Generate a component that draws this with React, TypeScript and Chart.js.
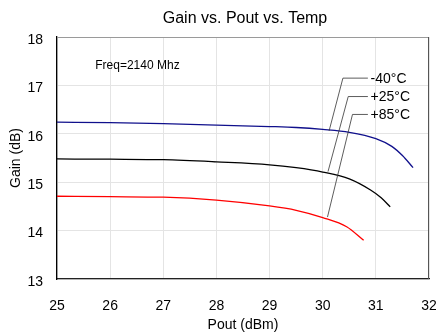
import React, { useEffect, useRef } from "react";
import { Chart, registerables } from "chart.js";

Chart.register(...registerables);

const FONT = "'Liberation Sans', Arial, sans-serif";

const TITLE = "Gain vs. Pout vs. Temp";
const X_TITLE = "Pout (dBm)";
const Y_TITLE = "Gain (dB)";
const FREQ_TEXT = "Freq=2140 Mhz";

// Series: x = Pout (dBm), y = Gain (dB)
const seriesNames = ["-40°C", "+25°C", "+85°C"];
const seriesColors = ["#10108c", "#000000", "#ff0000"];

const poutM40 = [25, 26, 27, 28, 29, 29.5, 30, 30.5, 31.0, 31.3, 31.5, 31.7];
const gainM40 = [16.24, 16.23, 16.21, 16.18, 16.15, 16.13, 16.09, 16.03, 15.9, 15.74, 15.55, 15.3];

const poutP25 = [25, 26, 27, 28, 29, 29.5, 30, 30.5, 30.9, 31.1, 31.27];
const gainP25 = [15.48, 15.475, 15.465, 15.42, 15.36, 15.3, 15.21, 15.07, 14.84, 14.68, 14.49];

const poutP85 = [25, 26, 27, 28, 29, 29.5, 30, 30.45, 30.77];
const gainP85 = [14.71, 14.7, 14.69, 14.63, 14.51, 14.42, 14.27, 14.08, 13.8];

// Callout leader lines (data units)
const calloutAnchorX = [30.12, 30.1, 30.09];
const calloutAnchorY = [16.06, 15.22, 14.28];
const calloutElbowX = [30.38, 30.48, 30.56];
const calloutElbowY = [17.15, 16.77, 16.4];
const calloutLineEndX = 30.85;
const calloutTextX = 30.9;

const freqX = 25.72;
const freqY = 17.41;

const X_MIN = 25, X_MAX = 32, Y_MIN = 13, Y_MAX = 18;

const toPoints = (xs: number[], ys: number[]) => xs.map((x, i) => ({ x, y: ys[i] }));

const decorPlugin = {
  id: "decor",
  afterDatasetsDraw(chart: any) {
    const { ctx, chartArea, scales } = chart;
    const xs = scales.x, ys = scales.y;
    ctx.save();
    // top and right frame
    ctx.lineWidth = 1;
    ctx.strokeStyle = "#9a9a9a";
    ctx.beginPath();
    ctx.moveTo(chartArea.left, chartArea.top + 0.5);
    ctx.lineTo(chartArea.right, chartArea.top + 0.5);
    ctx.stroke();
    ctx.strokeStyle = "#555555";
    ctx.beginPath();
    ctx.moveTo(chartArea.right - 0.5, chartArea.top);
    ctx.lineTo(chartArea.right - 0.5, chartArea.bottom);
    ctx.stroke();

    // title centred over the plot area
    ctx.fillStyle = "#000";
    ctx.font = `16px ${FONT}`;
    ctx.textAlign = "center";
    ctx.textBaseline = "middle";
    ctx.fillText(TITLE, (chartArea.left + chartArea.right) / 2 + 2, 19);

    // callouts
    ctx.strokeStyle = "#333333";
    ctx.lineWidth = 0.8;
    ctx.font = `14px ${FONT}`;
    ctx.textAlign = "left";
    for (let i = 0; i < seriesNames.length; i++) {
      const ax = xs.getPixelForValue(calloutAnchorX[i]);
      const ay = ys.getPixelForValue(calloutAnchorY[i]);
      const ex = xs.getPixelForValue(calloutElbowX[i]);
      const ey = ys.getPixelForValue(calloutElbowY[i]);
      const lx = xs.getPixelForValue(calloutLineEndX);
      ctx.beginPath();
      ctx.moveTo(ax, ay);
      ctx.lineTo(ex, ey);
      ctx.lineTo(lx, ey);
      ctx.stroke();
      ctx.fillText(seriesNames[i], xs.getPixelForValue(calloutTextX), ey + 1);
    }

    ctx.font = `12px ${FONT}`;
    ctx.fillText(FREQ_TEXT, xs.getPixelForValue(freqX), ys.getPixelForValue(freqY));
    ctx.restore();
  },
};

export default function App() {
  const ref = useRef<HTMLCanvasElement | null>(null);

  useEffect(() => {
    document.body.style.margin = "0";
    const canvas = ref.current;
    if (!canvas) return;
    const series = [toPoints(poutM40, gainM40), toPoints(poutP25, gainP25), toPoints(poutP85, gainP85)];
    const chart = new Chart(canvas, {
      type: "line",
      data: {
        datasets: series.map((data, i) => ({
          label: seriesNames[i],
          data,
          borderColor: seriesColors[i],
          backgroundColor: seriesColors[i],
          borderWidth: 1.3,
          pointRadius: 0,
          tension: 0.4,
          cubicInterpolationMode: "monotone" as const,
          fill: false,
        })),
      },
      options: {
        animation: false,
        responsive: false,
        devicePixelRatio: 1,
        layout: { padding: { left: 0, right: 7, top: 37, bottom: 0 } },
        plugins: {
          legend: { display: false },
          tooltip: { enabled: false },
          title: { display: false },
        },
        scales: {
          x: {
            type: "linear",
            min: X_MIN,
            max: X_MAX,
            afterFit: (s: any) => {
              s.height = 56;
              s.paddingLeft = 0;
              s.paddingRight = 0;
            },
            ticks: { stepSize: 1, color: "#000", font: { family: FONT, size: 14 }, padding: 19, maxRotation: 0 },
            grid: { color: "#e4e4e4", lineWidth: 1, drawTicks: false },
            border: { color: "#222", width: 1.2 },
            title: { display: true, text: X_TITLE, color: "#000", font: { family: FONT, size: 14 }, padding: { top: 0, bottom: 1 } },
          },
          y: {
            type: "linear",
            min: Y_MIN,
            max: Y_MAX,
            afterFit: (s: any) => {
              s.width = 57;
              s.paddingTop = 0;
              s.paddingBottom = 0;
            },
            ticks: { stepSize: 1, color: "#000", font: { family: FONT, size: 14 }, padding: 14, labelOffset: 3 },
            grid: { color: "#e4e4e4", lineWidth: 1, drawTicks: false },
            border: { color: "#000", width: 1.3 },
            title: { display: true, text: Y_TITLE, color: "#000", font: { family: FONT, size: 14 }, padding: { top: 8, bottom: 0 } },
          },
        },
      },
      plugins: [decorPlugin],
    });
    return () => chart.destroy();
  }, []);

  return (
    <div style={{ width: 436, height: 335 }}>
      <canvas ref={ref} width={436} height={335} />
    </div>
  );
}
